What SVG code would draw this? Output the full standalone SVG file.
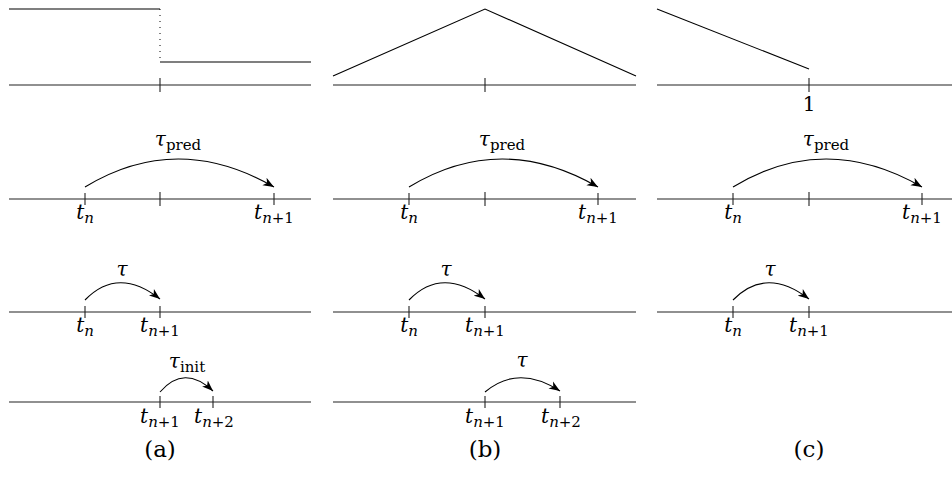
<svg xmlns="http://www.w3.org/2000/svg" width="952" height="480" viewBox="0 0 952 480">
<style>
.ax{stroke:#222;stroke-width:1.1;fill:none}
.ln{stroke:#000;stroke-width:1.1;fill:none}
.arc{stroke:#000;stroke-width:1.1;fill:none;marker-end:url(#ah)}
text{font-family:"DejaVu Serif","Liberation Serif",serif;font-size:20px;fill:#000}
.lb{text-anchor:middle}
.i{font-style:italic}
.s{font-size:15px}
.cap{font-size:23px}
</style>
<defs>
<marker id="ah" markerWidth="13" markerHeight="10" refX="11" refY="5" orient="auto" markerUnits="userSpaceOnUse">
<path d="M0,0.8 L11,5 L0,9.2 L3,5 Z" fill="#000"/>
</marker>
</defs>
<rect width="952" height="480" fill="#fff"/>

<g id="panel-a">
<g id="a-plot">
<line class="ln" x1="9" y1="9" x2="160" y2="9"/>
<line x1="160" y1="9" x2="160" y2="62" stroke="#000" stroke-width="1" stroke-dasharray="1,5"/>
<line class="ln" x1="160" y1="62" x2="311" y2="62"/>
<line class="ax" x1="9" y1="85" x2="311" y2="85"/>
<line class="ax" x1="160" y1="78" x2="160" y2="92"/>
</g>
<g id="a-row2">
<line class="ax" x1="9" y1="199" x2="311" y2="199"/>
<line class="ax" x1="85" y1="193" x2="85" y2="205"/>
<line class="ax" x1="160" y1="192" x2="160" y2="206"/>
<line class="ax" x1="274" y1="193" x2="274" y2="205"/>
<text class="lb" x="85" y="219"><tspan class="i">t</tspan><tspan class="i s" dy="4">n</tspan></text>
<text class="lb" x="274" y="219"><tspan class="i">t</tspan><tspan class="s" dy="4"><tspan class="i">n</tspan>+1</tspan></text>
<text class="lb" x="178" y="146"><tspan class="i">τ</tspan><tspan class="s" dy="4">pred</tspan></text>
</g>
<g id="a-row3">
<line class="ax" x1="9" y1="312" x2="311" y2="312"/>
<line class="ax" x1="85" y1="306" x2="85" y2="318"/>
<line class="ax" x1="160" y1="306" x2="160" y2="318"/>
<text class="lb" x="85" y="332"><tspan class="i">t</tspan><tspan class="i s" dy="4">n</tspan></text>
<text class="lb" x="160" y="332"><tspan class="i">t</tspan><tspan class="s" dy="4"><tspan class="i">n</tspan>+1</tspan></text>
<text class="lb" x="122" y="276"><tspan class="i">τ</tspan></text>
</g>
<g id="a-row4">
<line class="ax" x1="9" y1="402" x2="311" y2="402"/>
<line class="ax" x1="160" y1="396" x2="160" y2="408"/>
<line class="ax" x1="213" y1="396" x2="213" y2="408"/>
<text class="lb" x="160" y="423"><tspan class="i">t</tspan><tspan class="s" dy="4"><tspan class="i">n</tspan>+1</tspan></text>
<text class="lb" x="214" y="423"><tspan class="i">t</tspan><tspan class="s" dy="4"><tspan class="i">n</tspan>+2</tspan></text>
<text class="lb" x="187" y="368"><tspan class="i">τ</tspan><tspan class="s" dy="4">init</tspan></text>
</g>
<text class="lb cap" x="160" y="457">(a)</text>
</g>

<g id="panel-b">
<g id="b-plot">
<polyline class="ln" points="333,76 485,9 636,76"/>
<line class="ax" x1="333" y1="85" x2="636" y2="85"/>
<line class="ax" x1="485" y1="78" x2="485" y2="92"/>
</g>
<g id="b-row2">
<line class="ax" x1="333" y1="199" x2="636" y2="199"/>
<line class="ax" x1="409" y1="193" x2="409" y2="205"/>
<line class="ax" x1="485" y1="192" x2="485" y2="206"/>
<line class="ax" x1="598" y1="193" x2="598" y2="205"/>
<text class="lb" x="409" y="219"><tspan class="i">t</tspan><tspan class="i s" dy="4">n</tspan></text>
<text class="lb" x="598" y="219"><tspan class="i">t</tspan><tspan class="s" dy="4"><tspan class="i">n</tspan>+1</tspan></text>
<text class="lb" x="502" y="146"><tspan class="i">τ</tspan><tspan class="s" dy="4">pred</tspan></text>
</g>
<g id="b-row3">
<line class="ax" x1="333" y1="312" x2="636" y2="312"/>
<line class="ax" x1="409" y1="306" x2="409" y2="318"/>
<line class="ax" x1="485" y1="306" x2="485" y2="318"/>
<text class="lb" x="409" y="332"><tspan class="i">t</tspan><tspan class="i s" dy="4">n</tspan></text>
<text class="lb" x="485" y="332"><tspan class="i">t</tspan><tspan class="s" dy="4"><tspan class="i">n</tspan>+1</tspan></text>
<text class="lb" x="446" y="276"><tspan class="i">τ</tspan></text>
</g>
<g id="b-row4">
<line class="ax" x1="333" y1="402" x2="636" y2="402"/>
<line class="ax" x1="485" y1="396" x2="485" y2="408"/>
<line class="ax" x1="560" y1="396" x2="560" y2="408"/>
<text class="lb" x="485" y="423"><tspan class="i">t</tspan><tspan class="s" dy="4"><tspan class="i">n</tspan>+1</tspan></text>
<text class="lb" x="561" y="423"><tspan class="i">t</tspan><tspan class="s" dy="4"><tspan class="i">n</tspan>+2</tspan></text>
<text class="lb" x="522" y="367"><tspan class="i">τ</tspan></text>
</g>
<text class="lb cap" x="485" y="457">(b)</text>
</g>

<g id="panel-c">
<g id="c-plot">
<line class="ln" x1="657" y1="9" x2="809" y2="69"/>
<line class="ax" x1="657" y1="85" x2="952" y2="85"/>
<line class="ax" x1="809" y1="78" x2="809" y2="92"/>
<text class="lb" x="809" y="111">1</text>
</g>
<g id="c-row2">
<line class="ax" x1="657" y1="199" x2="952" y2="199"/>
<line class="ax" x1="733" y1="193" x2="733" y2="205"/>
<line class="ax" x1="809" y1="192" x2="809" y2="206"/>
<line class="ax" x1="922" y1="193" x2="922" y2="205"/>
<text class="lb" x="733" y="219"><tspan class="i">t</tspan><tspan class="i s" dy="4">n</tspan></text>
<text class="lb" x="922" y="219"><tspan class="i">t</tspan><tspan class="s" dy="4"><tspan class="i">n</tspan>+1</tspan></text>
<text class="lb" x="826" y="146"><tspan class="i">τ</tspan><tspan class="s" dy="4">pred</tspan></text>
</g>
<g id="c-row3">
<line class="ax" x1="657" y1="312" x2="952" y2="312"/>
<line class="ax" x1="733" y1="306" x2="733" y2="318"/>
<line class="ax" x1="809" y1="306" x2="809" y2="318"/>
<text class="lb" x="733" y="332"><tspan class="i">t</tspan><tspan class="i s" dy="4">n</tspan></text>
<text class="lb" x="809" y="332"><tspan class="i">t</tspan><tspan class="s" dy="4"><tspan class="i">n</tspan>+1</tspan></text>
<text class="lb" x="770" y="276"><tspan class="i">τ</tspan></text>
</g>
<text class="lb cap" x="809" y="457">(c)</text>
</g>

<g id="connectors">
<path class="arc" d="M85,187 Q177,131 274,187"/>
<path class="arc" d="M85,300 Q118,266 160,299"/>
<path class="arc" d="M160,392 Q184,364 213,391"/>
<path class="arc" d="M409,187 Q501,131 598,187"/>
<path class="arc" d="M409,300 Q442,266 485,299"/>
<path class="arc" d="M485,392 Q518,364 560,391"/>
<path class="arc" d="M733,187 Q825,131 922,187"/>
<path class="arc" d="M733,300 Q766,266 809,299"/>
</g>
</svg>
